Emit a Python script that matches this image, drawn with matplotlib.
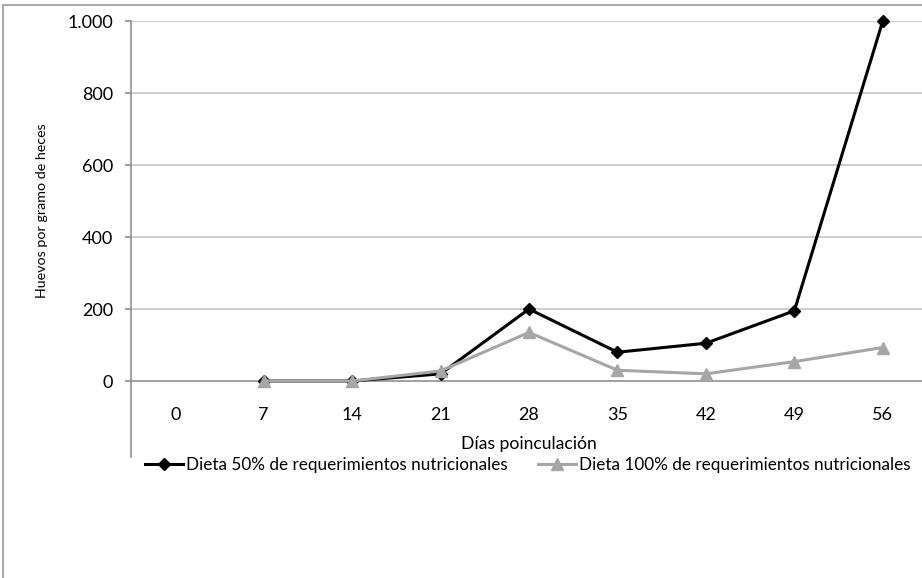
import matplotlib
matplotlib.use("Agg")
import matplotlib.pyplot as plt
from matplotlib.patches import Rectangle
from matplotlib.ticker import FuncFormatter

plt.rcParams['font.family'] = ['Lato', 'DejaVu Sans']

# Days post-inoculation (categories) and eggs per gram of faeces
dias = ['0', '7', '14', '21', '28', '35', '42', '49', '56']
dieta_50 = [None, 0, 0, 20, 200, 80, 105, 195, 1000]
dieta_100 = [None, 0, 0, 28, 135, 30, 20, 54, 93]
y_ticks = [0, 200, 400, 600, 800, 1000]

W, H = 922, 578
fig = plt.figure(figsize=(W / 100, H / 100), dpi=100)

# chart area border (runs off the right and bottom edges)
fig.patches.append(Rectangle((3 / W, -0.1), 1.2, 1 - 5 / H + 0.1,
                             transform=fig.transFigure, fill=False,
                             edgecolor='#a8a8a8', lw=1.5))

# plot area in pixels: left 131, right 927, top 21, bottom 457
ax = fig.add_axes([131 / W, 1 - 457 / H, 796 / W, 436 / H])
ax.set_facecolor('none')

x = list(range(len(dias)))
xs50 = [i for i, v in zip(x, dieta_50) if v is not None]
ys50 = [v for v in dieta_50 if v is not None]
xs100 = [i for i, v in zip(x, dieta_100) if v is not None]
ys100 = [v for v in dieta_100 if v is not None]

ax.plot(xs50, ys50, color='black', lw=2.2, marker='D', ms=6.5,
        mec='black', mfc='black', zorder=3, clip_on=False,
        label='Dieta 50% de requerimientos nutricionales')
ax.plot(xs100, ys100, color='#a6a6a6', lw=2.2, marker='^', ms=9,
        mec='#a6a6a6', mfc='#a6a6a6', zorder=4, clip_on=False,
        label='Dieta 100% de requerimientos nutricionales')

ax.set_xlim(-0.5, len(dias) - 0.5)
ax.set_ylim(-211, 1000)

# horizontal gridlines
for v in y_ticks[1:]:
    ax.axhline(v, color='#bfbfbf', lw=1.1, zorder=1)

for s in ['top', 'right']:
    ax.spines[s].set_visible(False)
ax.spines['left'].set_color('#868686')
ax.spines['left'].set_linewidth(1.1)
ax.spines['bottom'].set_position(('data', 0))
ax.spines['bottom'].set_color('#868686')
ax.spines['bottom'].set_linewidth(1.1)
ax.spines['left'].set_zorder(2)
ax.spines['bottom'].set_zorder(2)

ax.set_yticks(y_ticks)
ax.yaxis.set_major_formatter(FuncFormatter(
    lambda v, p: f'{int(v):,}'.replace(',', '.')))
ax.tick_params(axis='y', length=4, width=1.1, color='#868686', pad=9,
               labelsize=13, labelcolor='black')

ax.set_xticks(x)
ax.set_xticklabels(dias)
ax.tick_params(axis='x', length=0, pad=19, labelsize=13, labelcolor='black')

fig.text(529 / W, 1 - 444 / H, 'Días poinculación', ha='center', va='center',
         fontsize=12.6)
fig.text(42 / W, 1 - 211 / H, 'Huevos por gramo de heces', ha='center',
         va='center', rotation=90, fontsize=10.3)

fig.legend(loc='center', bbox_to_anchor=(528 / W, 1 - 465 / H), ncol=2,
           frameon=False, fontsize=12.3, handlelength=2.2, handletextpad=0.2,
           columnspacing=1.8, borderaxespad=0, borderpad=0)

fig.savefig('out.png', dpi=100)
